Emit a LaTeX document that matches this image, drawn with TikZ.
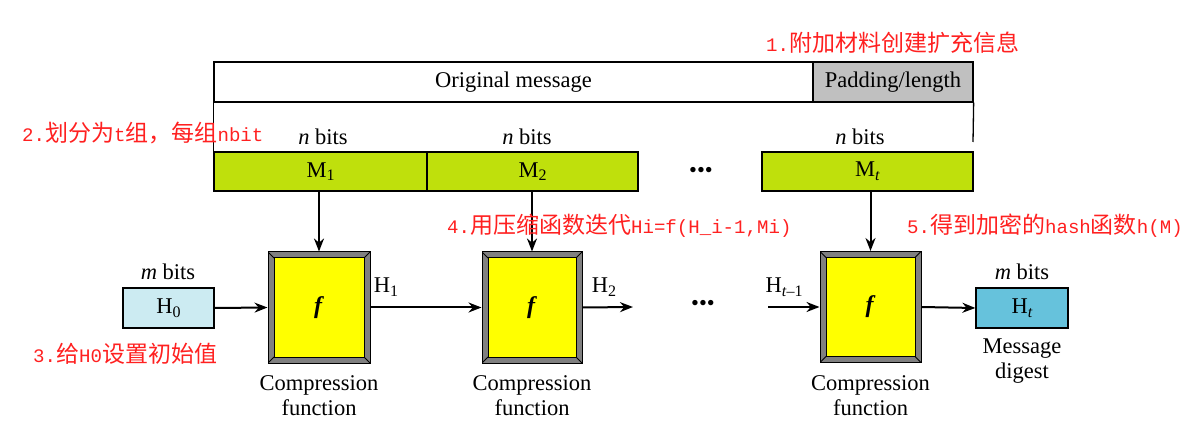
\documentclass[tikz,border=0pt]{standalone}
\usepackage{fontspec}
\setmainfont{Liberation Serif}
\newfontfamily\cjk{Noto Sans CJK SC}
\newfontfamily\lmono[Scale=0.83]{Liberation Mono}
\usetikzlibrary{arrows.meta}
\definecolor{mgreen}{HTML}{BFE00C}
\definecolor{hlight}{HTML}{CCEBF2}
\definecolor{hdark}{HTML}{66C2DC}
\definecolor{padgray}{HTML}{C0C0C0}
\definecolor{bevel}{HTML}{808080}
\definecolor{fyellow}{HTML}{FFFF00}
\definecolor{note}{HTML}{FF2020}
\newcommand{\lat}[1]{{\lmono #1}}
\newcommand{\sub}[1]{\raisebox{-0.35ex}{\fontsize{16}{18}\selectfont #1}}
\tikzset{
  txt/.style={font=\fontsize{22.5}{25}\selectfont, inner sep=0pt},
  box/.style={draw=black, line width=1.3pt, inner sep=0pt, font=\fontsize{22.5}{25}\selectfont},
  fbox/.style={draw=black, line width=1pt, fill=bevel, inner sep=0pt,
    minimum height=111pt, font=\fontsize{24}{26}\selectfont,
    path picture={
      \coordinate (sw) at (path picture bounding box.south west);
      \coordinate (ne) at (path picture bounding box.north east);
      \coordinate (nw) at (path picture bounding box.north west);
      \coordinate (se) at (path picture bounding box.south east);
      \draw[black, line width=1pt, fill=fyellow] ([shift={(6pt,6pt)}]sw) rectangle ([shift={(-6pt,-6pt)}]ne);
      \draw[black, line width=0.8pt] (sw) -- ([shift={(6pt,6pt)}]sw)
        (ne) -- ([shift={(-6pt,-6pt)}]ne)
        (nw) -- ([shift={(6pt,-6pt)}]nw)
        (se) -- ([shift={(-6pt,6pt)}]se);
    }},
  arr/.style={line width=2pt, -{Stealth[length=13pt,width=10pt]}},
  ln/.style={line width=1.3pt},
  notetxt/.style={text=note, inner sep=0pt, anchor=west, font=\cjk\fontsize{23}{26}\selectfont}
}
\begin{document}
\begin{tikzpicture}[x=1pt,y=-1pt]
\useasboundingbox (0,0) rectangle (1194,430);

% top bar
\node[box, minimum width=599pt, minimum height=40pt] (msg) at (513.5,82) {Original message};
\node[box, fill=padgray, minimum width=160pt, minimum height=40pt] (pad) at (893,82) {Padding/length};

% blocks
\node[box, fill=mgreen, minimum width=213pt, minimum height=39pt] (M1) at (320.5,171.5) {M\sub{1}};
\node[box, fill=mgreen, minimum width=211pt, minimum height=39pt] (M2) at (532.5,171.5) {M\sub{2}};
\node[box, fill=mgreen, minimum width=211pt, minimum height=39pt] (Mt) at (867.5,171.5) {M\sub{\textit{t}}};
\node[txt] (dots1) at (701,172) {\textbullet\textbullet\textbullet};

\node[txt] (nb1) at (323,137) {\textit{n} bits};
\node[txt] (nb2) at (527,137) {\textit{n} bits};
\node[txt] (nb3) at (860,137) {\textit{n} bits};

% vertical lines from message bar
\coordinate (rend) at (973,142);
\draw[ln] (msg.south west) -- (M1.north west);
\draw[ln] (pad.south east) -- (rend);

% compression boxes
\node[fbox, minimum width=102pt] (f1) at (319,307.5) {\textbf{\textit{f}}};
\node[fbox, minimum width=100pt] (f2) at (532,307.5) {\textbf{\textit{f}}};
\node[fbox, minimum width=101pt] (f3) at (870.5,307) {\textbf{\textit{f}}};

\node[txt, align=center] (c1) at (319,396) {Compression\\function};
\node[txt, align=center] (c2) at (532,396) {Compression\\function};
\node[txt, align=center] (c3) at (870.5,396) {Compression\\function};

% hash values
\node[box, fill=hlight, minimum width=91pt, minimum height=40pt] (H0) at (168.5,308) {H\sub{0}};
\node[box, fill=hdark, minimum width=92pt, minimum height=40pt] (Ht) at (1022,308) {H\sub{\textit{t}}};
\node[txt] (mb1) at (168,272) {\textit{m} bits};
\node[txt] (mb2) at (1022,272) {\textit{m} bits};
\node[txt, align=center] (md) at (1022,361) {Message\\digest};

\node[txt] (h1) at (386,287) {H\sub{1}};
\node[txt] (h2) at (604,287) {H\sub{2}};
\node[txt] (htm) at (784,287) {H\sub{\textit{t}–1}};
\node[txt] (dots2) at (703,305) {\textbullet\textbullet\textbullet};

\coordinate (h2end) at (633,307);
\coordinate (htstart) at (768,307);

% connectors
\draw[arr] (M1.south -| f1.north) -- (f1.north);
\draw[arr] (M2.south -| f2.north) -- (f2.north);
\draw[arr] (Mt.south -| f3.north) -- (f3.north);
\draw[arr] (H0.east) -- (f1.west);
\draw[arr] (f1.east) -- (f2.west);
\draw[arr] (f2.east) -- (h2end);
\draw[arr] (htstart) -- (f3.west |- htstart);
\draw[arr] (f3.east) -- (Ht.west);

% notes
\node[notetxt] (n1) at (766,43) {\lat{1.}附加材料创建扩充信息};
\node[notetxt] (n2) at (22,133) {\lat{2.}划分为\lat{t}组，每组\lat{nbit}};
\node[notetxt] (n3) at (33,354) {\lat{3.}给\lat{H0}设置初始值};
\node[notetxt] (n4) at (447,226) {\lat{4.}用压缩函数迭代\lat{Hi=f(H\_i-1,Mi)}};
\node[notetxt] (n5) at (907,226) {\lat{5.}得到加密的\lat{hash}函数\lat{h(M)}};
\end{tikzpicture}
\end{document}
